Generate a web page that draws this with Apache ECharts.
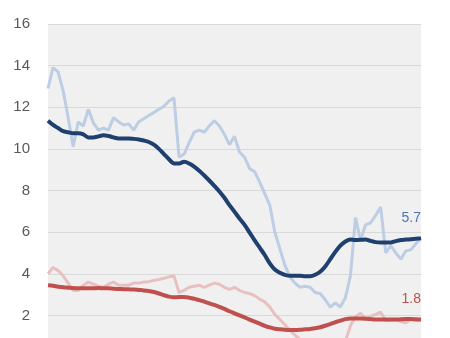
<!DOCTYPE html>
<html>
<head>
<meta charset="utf-8">
<script src="https://cdn.jsdelivr.net/npm/echarts@6/dist/echarts.min.js"></script>
<style>
  html, body { margin: 0; padding: 0; background: #ffffff; overflow: hidden; }
  #chart { width: 450px; height: 380px; }
</style>
</head>
<body>
<div id="chart"></div>
<script>
// Monthly periods along the horizontal axis (75 observations)
const periods = Array.from({ length: 75 }, (_, i) => 'P' + (i + 1));

// Blue series: raw monthly reading and its smoothed trend
const blueRaw = [
  12.9, 13.9, 13.7, 12.8, 11.5, 10.1, 11.3, 11.1, 11.9, 11.25,
  10.9, 11.0, 10.9, 11.5, 11.3, 11.15, 11.2, 10.9, 11.3, 11.45,
  11.6, 11.75, 11.9, 12.05, 12.3, 12.45, 9.6, 9.75, 10.3, 10.8,
  10.9, 10.8, 11.1, 11.35, 11.1, 10.7, 10.2, 10.6, 9.85, 9.6,
  9.05, 8.9, 8.4, 7.85, 7.3, 6.0, 5.2, 4.4, 3.85, 3.55,
  3.35, 3.4, 3.35, 3.1, 3.05, 2.75, 2.4, 2.6, 2.4, 2.85,
  3.9, 6.7, 5.6, 6.35, 6.45, 6.8, 7.2, 5.0, 5.35, 5.0,
  4.7, 5.1, 5.15, 5.45, 5.7
];
const blueTrend = [
  11.35, 11.15, 11.0, 10.85, 10.8, 10.75, 10.75, 10.7, 10.55, 10.55,
  10.6, 10.65, 10.62, 10.55, 10.5, 10.5, 10.5, 10.48, 10.45, 10.4,
  10.33, 10.2, 10.0, 9.75, 9.5, 9.3, 9.3, 9.38, 9.3, 9.15,
  8.95, 8.72, 8.48, 8.22, 7.95, 7.65, 7.3, 6.98, 6.65, 6.35,
  5.98, 5.6, 5.25, 4.9, 4.5, 4.2, 4.05, 3.95, 3.9, 3.9,
  3.9, 3.88, 3.88, 3.95, 4.1, 4.35, 4.7, 5.05, 5.35, 5.55,
  5.65, 5.62, 5.63, 5.65, 5.58, 5.52, 5.5, 5.5, 5.5, 5.57,
  5.62, 5.64, 5.66, 5.68, 5.7
];

// Red series: raw monthly reading and its smoothed trend
const redRaw = [
  4.0, 4.3, 4.15, 3.9, 3.55, 3.2, 3.2, 3.45, 3.6, 3.5,
  3.4, 3.35, 3.5, 3.6, 3.45, 3.45, 3.45, 3.55, 3.55, 3.6,
  3.62, 3.68, 3.72, 3.78, 3.85, 3.9, 3.1, 3.2, 3.35, 3.4,
  3.45, 3.35, 3.45, 3.55, 3.5, 3.35, 3.25, 3.35, 3.2, 3.1,
  3.05, 2.95, 2.78, 2.65, 2.4, 2.05, 1.8, 1.55, 1.3, 1.05,
  0.85, 0.8, 0.8, 0.7, 0.65, 0.55, 0.45, 0.5, 0.45, 0.75,
  1.5, 1.95, 2.1, 1.85, 1.95, 2.05, 2.15, 1.75, 1.75, 1.8,
  1.7, 1.65, 1.8, 1.75, 1.8
];
const redTrend = [
  3.45, 3.42, 3.38, 3.35, 3.33, 3.31, 3.3, 3.3, 3.3, 3.3,
  3.31, 3.3, 3.3, 3.28, 3.27, 3.26, 3.25, 3.24, 3.22, 3.2,
  3.17, 3.12, 3.05, 2.97, 2.9, 2.87, 2.88, 2.88, 2.85, 2.8,
  2.73, 2.66, 2.58, 2.5, 2.41, 2.31, 2.2, 2.1, 2.0, 1.9,
  1.8, 1.7, 1.6, 1.5, 1.42, 1.36, 1.33, 1.31, 1.3, 1.3,
  1.31, 1.33, 1.35, 1.38, 1.43, 1.5, 1.58, 1.67, 1.75, 1.82,
  1.85, 1.85, 1.85, 1.84, 1.82, 1.8, 1.8, 1.8, 1.8, 1.8,
  1.81, 1.82, 1.82, 1.81, 1.8
];

// Value-axis ticks
const yTicks = [0, 2, 4, 6, 8, 10, 12, 14, 16];

const chart = echarts.init(document.getElementById('chart'), null, { renderer: 'canvas' });

// Value tag placed just above the last point of a trend line
function endTag(color) {
  return {
    show: true,
    align: 'right',
    verticalAlign: 'middle',
    distance: 0,
    offset: [0, -20],
    color: color,
    fontSize: 14,
    fontFamily: 'Liberation Sans, Arial, sans-serif',
    formatter: p => Number(p.value).toFixed(1)
  };
}

chart.setOption({
  animation: false,
  backgroundColor: '#ffffff',
  grid: {
    left: 48,
    right: 29,
    top: 24,
    bottom: 23,
    show: true,
    backgroundColor: '#f0f0f0',
    borderWidth: 0
  },
  xAxis: {
    type: 'category',
    data: periods,
    boundaryGap: false,
    axisLine: { show: false },
    axisTick: { show: false },
    axisLabel: { show: false },
    splitLine: { show: false }
  },
  yAxis: {
    type: 'value',
    min: yTicks[0],
    max: yTicks[yTicks.length - 1],
    interval: yTicks[1] - yTicks[0],
    axisLine: { show: false },
    axisTick: { show: false },
    axisLabel: {
      margin: 18,
      color: '#595959',
      fontSize: 15,
      fontFamily: 'Liberation Sans, Arial, sans-serif'
    },
    splitLine: { lineStyle: { color: '#d9d9d9', width: 1 } }
  },
  series: [
    {
      type: 'line',
      data: redRaw,
      showSymbol: false,
      lineStyle: { color: '#e8c0bf', width: 3 },
      z: 2
    },
    {
      type: 'line',
      data: blueRaw,
      showSymbol: false,
      lineStyle: { color: '#bccde4', width: 3 },
      z: 2
    },
    {
      type: 'line',
      data: redTrend,
      showSymbol: false,
      smooth: 0.3,
      lineStyle: { color: '#c0504d', width: 4 },
      endLabel: endTag('#c0504d'),
      z: 3
    },
    {
      type: 'line',
      data: blueTrend,
      showSymbol: false,
      smooth: 0.3,
      lineStyle: { color: '#1f3f6f', width: 4 },
      endLabel: endTag('#4f74ad'),
      z: 4
    }
  ]
});
</script>
</body>
</html>
